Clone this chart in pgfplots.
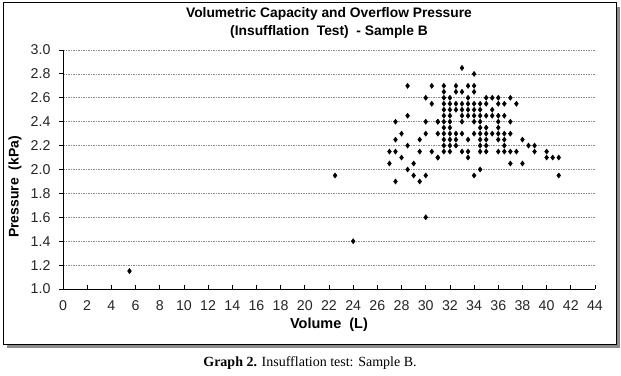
\documentclass[border=0pt]{standalone}
\usepackage{pgfplots}
\pgfplotsset{compat=1.18}
\usepackage{fontspec}
\setmainfont{Liberation Sans}
\newfontfamily\capfont{Liberation Serif}
\pgfplotstableread{
V P
5.5 1.15
22.5 1.95
24 1.4
30 1.6
28.5 2.7
30.5 2.7
30 2.6
30.5 2.55
28.5 2.45
27.5 2.4
30 2.4
31 2.4
28 2.3
30 2.3
27.5 2.25
29.5 2.25
28.5 2.2
27 2.15
27.5 2.15
29.5 2.15
30.5 2.15
28 2.1
31 2.1
27 2.05
29 2.05
28.5 2.0
29 1.95
30 1.95
29.5 1.9
27.5 1.9
33 2.85
34 2.8
31.5 2.7
32.5 2.7
33.5 2.7
34 2.7
31.5 2.65
32.5 2.65
33 2.65
34 2.65
31.5 2.6
32 2.6
33.5 2.6
35 2.6
35.5 2.6
36 2.6
37 2.6
31.5 2.55
32 2.55
32.5 2.55
33 2.55
33.5 2.55
34 2.55
34.5 2.55
35 2.55
36 2.55
36.5 2.55
37.5 2.55
31.5 2.5
32 2.5
32.5 2.5
33 2.5
33.5 2.5
34 2.5
34.5 2.5
35.5 2.5
31.5 2.45
32 2.45
33 2.45
33.5 2.45
34 2.45
34.5 2.45
35 2.45
35.5 2.45
36 2.45
36.5 2.45
31 2.4
31.5 2.4
32 2.4
33 2.4
34 2.4
34.5 2.4
36 2.4
37 2.4
31.5 2.35
32 2.35
34.5 2.35
35 2.35
36 2.35
31 2.3
31.5 2.3
32 2.3
32.5 2.3
33 2.3
34 2.3
34.5 2.3
35 2.3
35.5 2.3
36 2.3
36.5 2.3
37 2.3
31.5 2.25
32 2.25
32.5 2.25
33.5 2.25
34.5 2.25
35 2.25
36 2.25
36.5 2.25
38 2.25
31.5 2.2
32 2.2
32.5 2.2
34.5 2.2
35 2.2
36.5 2.2
38.5 2.2
39 2.2
31.5 2.15
32 2.15
33 2.15
33.5 2.15
34.5 2.15
35 2.15
36 2.15
36.5 2.15
37 2.15
37.5 2.15
39 2.15
40 2.15
31 2.1
33.5 2.1
40 2.1
40.5 2.1
41 2.1
37 2.05
38 2.05
34.5 2.0
34 1.95
41 1.95
}\datatable
\begin{document}
\begin{tikzpicture}[x=1pt,y=1pt]
\path[use as bounding box] (0,0) rectangle (621,375);
\fill[black!45] (7,27) rectangle (620,368);
\draw[fill=white, line width=1pt] (3,31) rectangle (616,372);
\node[font=\bfseries\fontsize{13.8}{13.8}\selectfont] at (329,361) {Volumetric Capacity and Overflow Pressure};
\node[font=\bfseries\fontsize{13.8}{13.8}\selectfont] at (329,343) {(Insufflation\ \ Test)\ \ - Sample B};
\node[font=\bfseries\fontsize{14.5}{14.5}\selectfont] at (329,50) {Volume\ \ (L)};
\node[font=\bfseries\fontsize{14}{14}\selectfont, rotate=90] at (15,188) {Pressure\ \ (kPa)};
\node[font=\capfont\fontsize{14}{14}\selectfont] at (310,12) {\textbf{Graph 2.} Insufflation test: Sample B.};
\begin{axis}[
  at={(63pt,86pt)}, anchor=south west,
  scale only axis, width=532pt, height=239pt,
  xmin=0, xmax=44, ymin=1, ymax=3,
  xtick={0,2,...,44},
  ytick={1.0,1.2,1.4,1.6,1.8,2.0,2.2,2.4,2.6,2.8,3.0},
  yticklabel style={xshift=-5pt, /pgf/number format/.cd, fixed, fixed zerofill, precision=1},
  /pgf/number format/assume math mode=true,
  ticklabel style={font=\fontsize{14.2}{14.2}\selectfont, text=black!85},
  xticklabel style={yshift=-8pt},
  axis x line*=bottom, axis y line*=left,
  xtick align=inside, ytick align=outside,
  major tick length=4pt,
  tick style={black, line width=0.8pt},
  axis line style={line width=0.8pt},
  ymajorgrids,
  grid style={black!45, dash pattern=on 1.5pt off 1pt, line width=0.6pt},
  clip=false,
]
\addplot[only marks, mark=diamond*, mark size=2.6pt, mark options={fill=black, draw=black}] table[x=V,y=P] {\datatable};
\end{axis}
\end{tikzpicture}
\end{document}
